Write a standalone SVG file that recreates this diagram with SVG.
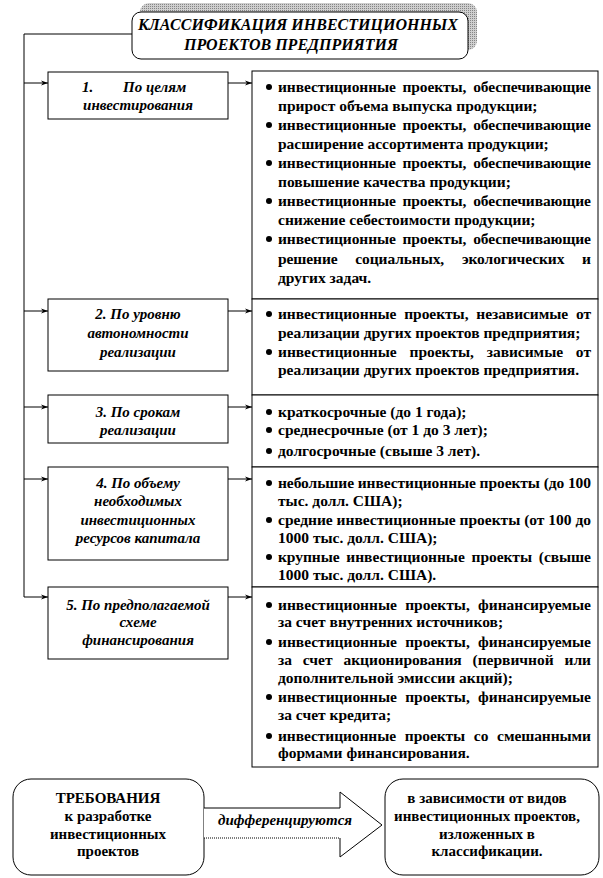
<svg xmlns="http://www.w3.org/2000/svg" width="603" height="878" viewBox="0 0 603 878">
<style>
  .box{fill:#fff;stroke:#000;stroke-width:1}
  .ln{fill:none;stroke:#000;stroke-width:1}
  text{font-family:'Liberation Serif','Tinos','Times New Roman',serif;font-weight:bold;font-size:15.5px;fill:#000}
  .ti{font-style:italic;font-size:15px}
  .c{text-anchor:middle}
  .hd{font-size:16px}
  .sm{font-size:15px}
</style>
<defs>
  <marker id="ah" markerUnits="userSpaceOnUse" markerWidth="8" markerHeight="6" refX="7" refY="3" orient="auto">
    <path d="M0,0.5 L7,3 L0,5.5 L2,3 z" fill="#000"/>
  </marker>
  <pattern id="hatch" width="2" height="2" patternUnits="userSpaceOnUse">
    <rect width="2" height="2" fill="#cfcfcf"/>
    <rect width="1" height="1" fill="#858585"/>
  </pattern>
  <circle id="b" r="3" fill="#000"/>
</defs>
<rect width="603" height="878" fill="#fff"/>

<g id="title">
  <rect x="140" y="3" width="337" height="47" rx="9" fill="url(#hatch)"/>
  <rect class="box" x="132" y="12" width="336" height="47" rx="9"/>
  <text class="ti hd c" x="298" y="30">КЛАССИФИКАЦИЯ ИНВЕСТИЦИОННЫХ</text>
  <text class="ti hd c" x="291" y="50">ПРОЕКТОВ ПРЕДПРИЯТИЯ</text>
</g>

<g id="connectors">
  <polyline class="ln" points="132,34 24,34 24,597"/>
  <line class="ln" x1="24" y1="83" x2="48" y2="83" marker-end="url(#ah)"/>
  <line class="ln" x1="24" y1="311" x2="48" y2="311" marker-end="url(#ah)"/>
  <line class="ln" x1="24" y1="407" x2="48" y2="407" marker-end="url(#ah)"/>
  <line class="ln" x1="24" y1="479" x2="48" y2="479" marker-end="url(#ah)"/>
  <line class="ln" x1="24" y1="597" x2="48" y2="597" marker-end="url(#ah)"/>
  <line class="ln" x1="228" y1="83" x2="252" y2="83" marker-end="url(#ah)"/>
  <line class="ln" x1="228" y1="311" x2="252" y2="311" marker-end="url(#ah)"/>
  <line class="ln" x1="228" y1="407" x2="252" y2="407" marker-end="url(#ah)"/>
  <line class="ln" x1="228" y1="479" x2="252" y2="479" marker-end="url(#ah)"/>
  <line class="ln" x1="228" y1="597" x2="252" y2="597" marker-end="url(#ah)"/>
</g>

<g id="k1">
  <rect class="box" x="48" y="72" width="180" height="47"/>
  <text class="ti" x="82" y="92">1.</text>
  <text class="ti" x="123" y="92">По целям</text>
  <text class="ti c" x="138" y="110">инвестирования</text>
</g>
<g id="k2">
  <rect class="box" x="48" y="299" width="180" height="72"/>
  <text class="ti c" x="138" y="319">2. По уровню</text>
  <text class="ti c" x="138" y="338">автономности</text>
  <text class="ti c" x="138" y="357">реализации</text>
</g>
<g id="k3">
  <rect class="box" x="48" y="395" width="180" height="48"/>
  <text class="ti c" x="138" y="417">3. По срокам</text>
  <text class="ti c" x="138" y="435">реализации</text>
</g>
<g id="k4">
  <rect class="box" x="48" y="467" width="180" height="93"/>
  <text class="ti c" x="138" y="488">4. По объему</text>
  <text class="ti c" x="138" y="506">необходимых</text>
  <text class="ti c" x="138" y="525">инвестиционных</text>
  <text class="ti c" x="138" y="543">ресурсов капитала</text>
</g>
<g id="k5">
  <rect class="box" x="48" y="587" width="180" height="72"/>
  <text class="ti c" x="138" y="610">5. По предполагаемой</text>
  <text class="ti c" x="138" y="627">схеме</text>
  <text class="ti c" x="138" y="645">финансирования</text>
</g>

<g id="v1">
  <rect class="box" x="252" y="71" width="346" height="228"/>
  <use href="#b" x="269" y="87"/>
  <text x="278" y="92" word-spacing="3" textLength="313" lengthAdjust="spacing">инвестиционные проекты, обеспечивающие</text>
  <text x="278" y="111">прирост объема выпуска продукции;</text>
  <use href="#b" x="269" y="125"/>
  <text x="278" y="130" word-spacing="3" textLength="313" lengthAdjust="spacing">инвестиционные проекты, обеспечивающие</text>
  <text x="278" y="149">расширение ассортимента продукции;</text>
  <use href="#b" x="269" y="163"/>
  <text x="278" y="168" word-spacing="3" textLength="313" lengthAdjust="spacing">инвестиционные проекты, обеспечивающие</text>
  <text x="278" y="187">повышение качества продукции;</text>
  <use href="#b" x="269" y="201"/>
  <text x="278" y="206" word-spacing="3" textLength="313" lengthAdjust="spacing">инвестиционные проекты, обеспечивающие</text>
  <text x="278" y="225">снижение себестоимости продукции;</text>
  <use href="#b" x="269" y="239"/>
  <text x="278" y="244" word-spacing="3" textLength="313" lengthAdjust="spacing">инвестиционные проекты, обеспечивающие</text>
  <text x="278" y="264" word-spacing="14" textLength="313" lengthAdjust="spacing">решение социальных, экологических и</text>
  <text x="278" y="283">других задач.</text>
</g>
<g id="v2">
  <rect class="box" x="252" y="299" width="346" height="96"/>
  <use href="#b" x="269" y="314"/>
  <text x="278" y="319" word-spacing="4" textLength="313" lengthAdjust="spacing">инвестиционные проекты, независимые от</text>
  <text x="278" y="338">реализации других проектов предприятия;</text>
  <use href="#b" x="269" y="352"/>
  <text x="278" y="357" word-spacing="9" textLength="313" lengthAdjust="spacing">инвестиционные проекты, зависимые от</text>
  <text x="278" y="375">реализации других проектов предприятия.</text>
</g>
<g id="v3">
  <rect class="box" x="252" y="395" width="346" height="72"/>
  <use href="#b" x="269" y="412"/>
  <text x="278" y="417">краткосрочные (до 1 года);</text>
  <use href="#b" x="269" y="430"/>
  <text x="278" y="435">среднесрочные (от 1 до 3 лет);</text>
  <use href="#b" x="269" y="451"/>
  <text x="278" y="456">долгосрочные (свыше 3 лет).</text>
</g>
<g id="v4">
  <rect class="box" x="252" y="467" width="346" height="120"/>
  <use href="#b" x="269" y="483"/>
  <text x="278" y="488" textLength="313" lengthAdjust="spacing">небольшие инвестиционные проекты (до 100</text>
  <text x="278" y="506">тыс. долл. США);</text>
  <use href="#b" x="269" y="520"/>
  <text x="278" y="525" textLength="313" lengthAdjust="spacing">средние инвестиционные проекты (от 100 до</text>
  <text x="278" y="543">1000 тыс. долл. США);</text>
  <use href="#b" x="269" y="557"/>
  <text x="278" y="562" word-spacing="3" textLength="313" lengthAdjust="spacing">крупные инвестиционные проекты (свыше</text>
  <text x="278" y="580">1000 тыс. долл. США).</text>
</g>
<g id="v5">
  <rect class="box" x="252" y="587" width="346" height="180"/>
  <use href="#b" x="269" y="605"/>
  <text x="278" y="610" word-spacing="4.5" textLength="313" lengthAdjust="spacing">инвестиционные проекты, финансируемые</text>
  <text x="278" y="627">за счет внутренних источников;</text>
  <use href="#b" x="269" y="642"/>
  <text x="278" y="647" word-spacing="4.5" textLength="313" lengthAdjust="spacing">инвестиционные проекты, финансируемые</text>
  <text x="278" y="665" word-spacing="7" textLength="313" lengthAdjust="spacing">за счет акционирования (первичной или</text>
  <text x="278" y="683">дополнительной эмиссии акций);</text>
  <use href="#b" x="269" y="697"/>
  <text x="278" y="702" word-spacing="4.5" textLength="313" lengthAdjust="spacing">инвестиционные проекты, финансируемые</text>
  <text x="278" y="720">за счет кредита;</text>
  <use href="#b" x="269" y="736"/>
  <text x="278" y="741" word-spacing="5" textLength="313" lengthAdjust="spacing">инвестиционные проекты со смешанными</text>
  <text x="278" y="758">формами финансирования.</text>
</g>

<g id="req">
  <rect class="box" x="13" y="779" width="191" height="96" rx="18"/>
  <text class="c sm" x="108" y="803">ТРЕБОВАНИЯ</text>
  <text class="c sm" x="108" y="821">к разработке</text>
  <text class="c sm" x="108" y="839">инвестиционных</text>
  <text class="c sm" x="108" y="856">проектов</text>
</g>
<g id="diff-arrow">
  <polygon points="204,808 340,808 340,792 382,825 340,857 340,838 204,838" fill="#fff"/>
  <polyline class="ln" points="204,808 340,808 340,792 382,825 340,857 340,838"/>
  <line class="ln" x1="204" y1="838" x2="340" y2="838" stroke-dasharray="1 1"/>
  <text class="ti c" x="285" y="825">дифференцируются</text>
</g>
<g id="dep">
  <rect class="box" x="385" y="779" width="214" height="96" rx="18"/>
  <text class="c sm" x="487" y="803">в зависимости от видов</text>
  <text class="c sm" x="487" y="821">инвестиционных проектов,</text>
  <text class="c sm" x="487" y="839">изложенных в</text>
  <text class="c sm" x="487" y="856">классификации.</text>
</g>
</svg>
